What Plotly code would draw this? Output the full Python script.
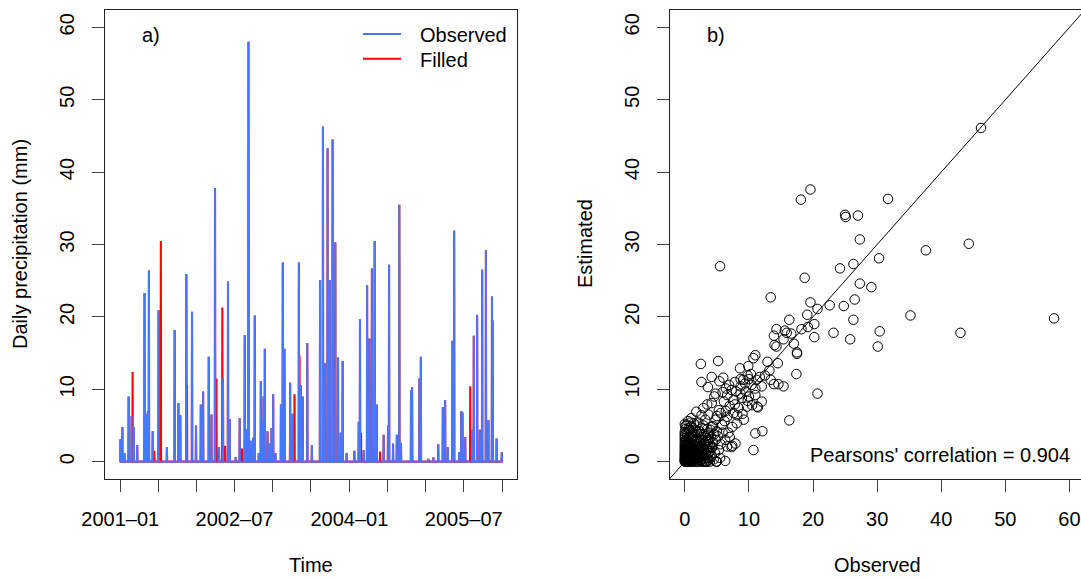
import numpy as np
import pandas as pd
import plotly.graph_objects as go

# ---------------- data: panel a (daily precipitation, mm) ----------------
obs_dates = ["2001-01-02", "2001-01-11", "2001-01-21", "2001-02-10", "2001-02-24", "2001-03-07",
             "2001-03-23", "2001-04-27", "2001-05-05", "2001-05-13", "2001-05-18", "2001-06-05",
             "2001-07-03", "2001-08-12", "2001-09-18", "2001-10-06", "2001-10-15", "2001-11-13",
             "2001-12-10", "2001-12-29", "2002-01-21", "2002-02-01", "2002-02-28", "2002-03-13",
             "2002-03-30", "2002-04-18", "2002-05-07", "2002-05-31", "2002-06-08", "2002-07-07",
             "2002-07-26", "2002-08-19", "2002-08-27", "2002-09-06", "2002-09-16", "2002-09-28",
             "2002-10-06", "2002-10-25", "2002-11-04", "2002-11-10", "2002-11-17", "2002-11-23",
             "2002-12-06", "2002-12-14", "2002-12-25", "2003-01-02", "2003-01-13", "2003-02-08",
             "2003-02-17", "2003-02-25", "2003-03-24", "2003-04-05", "2003-05-05", "2003-05-14",
             "2003-05-23", "2003-06-14", "2003-07-06", "2003-08-14", "2003-08-28", "2003-09-06",
             "2003-09-19", "2003-09-29", "2003-10-13", "2003-10-26", "2003-11-08", "2003-11-21",
             "2003-11-30", "2003-12-19", "2004-01-25", "2004-02-15", "2004-02-21", "2004-03-10",
             "2004-03-26", "2004-04-06", "2004-04-18", "2004-05-01", "2004-05-11", "2004-06-13",
             "2004-07-04", "2004-07-09", "2004-07-28", "2004-08-15", "2004-08-27", "2004-09-04",
             "2004-10-22", "2004-10-27", "2004-12-01", "2004-12-08", "2005-01-13", "2005-02-06",
             "2005-03-01", "2005-03-23", "2005-04-03", "2005-04-16", "2005-05-08", "2005-05-16",
             "2005-06-09", "2005-06-19", "2005-06-25", "2005-07-08", "2005-08-10", "2005-08-18",
             "2005-09-03", "2005-09-16", "2005-09-27", "2005-10-15", "2005-10-27", "2005-11-13",
             "2005-11-16", "2005-12-05", "2005-12-30"]
obs_vals = [3.1, 4.8, 1.2, 9.0, 6.3, 4.8,
            2.3, 23.3, 6.5, 7.0, 26.4, 4.2,
            20.9, 2.0, 18.2, 8.1, 6.4, 25.9,
            20.7, 5.0, 7.9, 9.7, 14.5, 6.5,
            37.8, 2.0, 11.5, 24.9, 5.9, 0.6,
            6.0, 17.5, 4.5, 58.0, 2.9, 3.3,
            20.2, 1.2, 11.1, 5.5, 9.0, 15.6,
            4.2, 2.5, 4.6, 9.3, 1.2, 7.9,
            27.5, 15.6, 10.9, 6.6, 27.5, 10.6,
            9.0, 16.4, 2.3, 25.1, 46.3, 13.6,
            43.3, 25.1, 44.5, 30.3, 14.4, 4.0,
            13.9, 1.2, 1.5, 5.5, 19.7, 1.6,
            24.4, 17.0, 26.7, 30.5, 7.9, 3.7,
            5.0, 27.2, 2.5, 3.7, 35.5, 2.6,
            9.9, 10.3, 11.5, 14.5, 0.4, 0.6,
            2.4, 7.5, 8.5, 2.0, 16.7, 31.9,
            1.3, 7.0, 6.8, 3.4, 4.4, 17.4,
            20.3, 4.4, 26.5, 29.2, 5.7, 22.8,
            19.5, 3.2, 1.3]
fill_dates = ["2001-03-01", "2001-06-13", "2001-07-14", "2001-11-16", "2002-04-06", "2002-05-04",
              "2002-05-17", "2002-08-06", "2003-04-14", "2003-05-08", "2004-02-26", "2004-05-27",
              "2005-08-01"]
fill_vals = [12.4, 1.5, 30.5, 10.6, 11.5, 21.3,
             2.2, 1.8, 9.3, 14.7, 4.0, 1.4,
             10.4]
time_ticks = ["2001-01-01", "2001-07-01", "2002-01-01", "2002-07-01", "2003-01-01", "2003-07-01",
              "2004-01-01", "2004-07-01", "2005-01-01", "2005-07-01", "2006-01-01"]
time_labels = ["2001\u201301", "", "", "2002\u201307", "", "", "2004\u201301", "", "", "2005\u201307", ""]

# ---------------- data: panel b (observed vs estimated) ----------------
sc_obs = [46.2, 19.6, 18.1, 31.7, 25.0, 25.1, 27.0, 27.3, 44.3, 37.6, 30.3, 26.3, 24.2, 5.5, 18.7,
          27.3, 29.1, 13.4, 19.6, 22.6, 24.8, 26.5, 20.7, 19.1, 35.2, 57.6, 16.3, 26.3, 20.2, 19.2,
          18.2, 14.3, 15.6, 16.6, 15.9, 13.9, 23.2, 30.4, 43.0, 15.4, 20.2, 25.8, 30.1, 14.0, 14.3,
          17.0, 17.5, 17.5, 14.5,
          16.3, 20.7, 17.4, 11.0, 10.7, 2.5, 5.2, 10.7, 11.0, 12.1, 11.4, 7.3, 6.3, 5.0, 3.3,
          10.3, 8.7, 9.1, 11.7, 12.0, 13.4, 13.9, 14.6, 15.4, 2.6, 3.6, 4.2, 5.4, 6.4, 4.8,
          6.6, 8.7, 9.5, 7.9, 6.6, 4.9, 3.2,
          0.5, 0.1, 1.9, 2.7, 4.2, 5.8, 3.2, 4.8, 6.6, 7.6, 8.4, 9.7, 10.5, 2.9, 4.2,
          6.1, 7.6, 8.9, 10.0, 11.0, 8.7, 9.4, 5.3, 3.7, 7.4, 9.2, 11.3, 12.0, 6.3, 7.4,
          5.3, 5.5, 8.1, 3.7, 4.8, 1.6,
          0.0, 0.0, 0.0, 0.0, 0.0, 0.0, 0.0, 0.0, 0.0, 0.0, 0.1, 0.2, 0.2, 0.3, 0.3,
          0.4, 0.4, 0.5, 0.5, 0.6, 0.7, 0.7, 0.8, 0.8, 0.9, 0.9, 1.0, 1.0, 1.1, 1.1,
          1.2, 1.3, 1.3, 1.4, 1.5, 1.5, 1.6, 1.7, 1.8, 1.8, 1.9, 2.0, 2.0, 2.1, 2.2,
          2.3, 2.4, 2.5, 2.5, 2.6, 2.7, 2.8, 2.9, 3.0, 3.1, 3.2, 3.3, 3.4, 3.5, 3.6,
          3.7, 3.8, 3.9, 4.0, 4.1, 4.2, 4.4, 4.5, 4.6, 4.7, 0.1, 0.3, 0.6, 0.2, 0.4,
          0.6, 0.1, 0.2, 0.4, 0.1, 0.3, 0.7, 1.0, 1.2, 1.4, 0.5, 0.8, 1.1, 1.6, 2.4,
          2.7, 3.9, 1.9, 1.2, 0.9, 1.7, 2.2, 2.9, 3.3, 3.6, 4.0, 4.4, 5.0, 5.2, 5.6,
          5.9, 6.2, 6.8, 7.0, 5.0, 5.6, 6.4, 7.0, 7.8, 8.2, 9.0, 9.8, 10.4, 11.2, 8.0,
          7.3, 6.9, 5.9, 2.1, 2.6, 1.8, 3.5, 4.6, 1.0, 6.0, 7.8, 9.8, 12.5, 13.2, 8.6,
          9.9, 12.9, 10.0, 11.0,
          0.0, 0.0, 0.0, 0.0, 0.0, 0.0, 0.0, 0.0, 0.0, 0.0,
          0.1, 0.1, 0.1, 0.2, 0.2, 0.3, 0.3, 0.4, 0.4, 0.5,
          0.5, 0.5, 0.6, 0.6, 0.7, 0.7, 0.7, 0.8, 0.8, 0.9,
          0.9, 1.0, 1.0, 1.1, 1.1, 1.2, 1.2, 1.3, 1.4, 1.4,
          1.5, 1.6, 1.7, 1.7, 1.8, 1.9, 2.0, 2.0, 2.1, 2.2,
          2.3, 2.4, 2.5, 2.6, 2.7, 2.8, 3.0, 3.0, 3.2, 3.4,
          3.5, 3.7, 3.8, 4.0, 4.2, 0.3, 0.6, 0.9, 1.3, 1.8,
          2.3, 2.9, 3.5, 2.0, 1.5, 1.0, 2.5, 3.0, 3.8, 4.3]
sc_est = [46.1, 37.6, 36.2, 36.3, 34.1, 33.8, 34.0, 30.7, 30.1, 29.2, 28.1, 27.3, 26.7, 27.0, 25.4,
          24.6, 24.1, 22.7, 22.0, 21.6, 21.5, 22.4, 21.1, 20.3, 20.2, 19.8, 19.6, 19.6, 19.0, 18.6,
          18.3, 18.3, 18.1, 17.7, 17.8, 17.4, 17.8, 18.0, 17.8, 16.9, 17.2, 16.9, 15.9, 16.1, 15.9,
          16.3, 15.1, 14.9, 13.6,
          5.7, 9.4, 12.1, 14.7, 14.3, 13.5, 13.9, 1.6, 3.9, 4.2, 7.5, 2.0, 0.1, 0.0, 0.0,
          12.1, 11.4, 11.3, 11.7, 10.4, 11.3, 10.7, 10.7, 10.4, 11.0, 10.3, 11.7, 11.1, 10.1, 9.4,
          9.2, 9.4, 9.7, 2.5, 2.1, 0.0, 0.0,
          5.6, 4.9, 4.1, 4.6, 4.8, 5.1, 5.8, 5.8, 6.2, 6.7, 7.4, 7.6, 7.8, 7.4, 8.1,
          8.3, 8.5, 8.8, 9.0, 9.2, 10.4, 10.8, 7.1, 6.5, 4.8, 5.8, 7.6, 8.3, 3.0, 2.2,
          1.6, 0.5, 5.3, 1.2, 3.0, 3.0,
          0.0, 0.2, 0.5, 0.9, 1.3, 1.8, 2.3, 2.9, 3.5, 4.1, 0.0, 0.1, 0.7, 1.5, 2.6,
          0.0, 0.4, 1.1, 2.0, 3.2, 0.1, 0.8, 1.6, 2.4, 0.3, 3.8, 0.0, 1.2, 2.0, 2.9,
          0.5, 1.5, 3.4, 0.1, 2.3, 0.8, 1.8, 4.3, 0.3, 2.7, 1.2, 0.0, 3.3, 2.0, 0.6,
          1.5, 2.6, 0.2, 3.8, 1.0, 2.1, 3.0, 0.4, 1.6, 2.5, 3.5, 0.9, 2.0, 0.0, 2.9,
          4.0, 1.4, 2.4, 0.6, 3.4, 1.9, 2.7, 0.3, 3.8, 1.2, 0.3, 0.0, 0.5, 1.0, 1.8,
          2.6, 2.1, 3.0, 3.6, 4.5, 5.1, 4.4, 4.9, 3.9, 5.3, 0.2, 0.0, 0.7, 0.0, 0.0,
          0.0, 0.0, 0.0, 0.0, 1.0, 1.0, 1.2, 1.9, 2.8, 3.6, 4.4, 4.9, 4.2, 3.5, 2.4,
          4.0, 5.6, 4.0, 3.4, 6.3, 6.7, 7.0, 7.7, 7.9, 6.4, 6.6, 8.4, 10.6, 11.3, 9.7,
          9.9, 10.6, 9.6, 5.4, 6.4, 6.9, 7.9, 9.0, 6.0, 11.6, 11.0, 11.9, 11.9, 12.6, 12.9,
          13.2, 13.8, 11.4, 10.1,
          0.1, 0.4, 0.7, 1.1, 1.5, 2.0, 2.6, 3.2, 3.8, 5.2,
          0.6, 1.2, 1.7, 2.3, 0.4, 0.9, 2.0, 1.3, 2.9, 0.0,
          0.6, 1.6, 1.0, 2.2, 0.3, 1.3, 3.5, 0.5, 1.9, 0.7,
          2.7, 0.4, 1.6, 0.2, 1.0, 2.4, 1.7, 0.6, 1.2, 2.8,
          0.3, 1.4, 0.6, 2.2, 1.6, 0.5, 1.0, 2.4, 0.3, 1.8,
          0.9, 2.0, 1.2, 0.5, 1.6, 0.8, 0.0, 2.2, 1.2, 0.5,
          1.5, 2.0, 0.3, 1.5, 0.8, 4.0, 4.6, 5.4, 4.6, 5.0,
          4.2, 5.0, 4.5, 3.8, 3.6, 3.2, 3.0, 3.8, 3.0, 2.0]
sc_ticks = [0, 10, 20, 30, 40, 50, 60]
correlation_text = "Pearsons' correlation = 0.904"

# ---------------- build daily series ----------------
days = pd.date_range("2001-01-01", "2005-12-31", freq="D")
obs = pd.Series(0.0, index=days)
obs[pd.to_datetime(obs_dates)] = obs_vals
filled = obs.copy()
filled[pd.to_datetime(fill_dates)] = fill_vals
obs_plot = obs.copy()
obs_plot[pd.to_datetime(fill_dates)] = np.nan

BLUE = "#4876FF"
RED = "#FF0000"
FONT = "Liberation Sans, Arial, Helvetica, sans-serif"

fig = go.Figure()
fig.add_trace(go.Scatter(x=days, y=filled.values, mode="lines",
                         line=dict(color=RED, width=2.1, simplify=False),
                         xaxis="x", yaxis="y", showlegend=False, connectgaps=False))
fig.add_trace(go.Scatter(x=days, y=[None if np.isnan(v) else v for v in obs_plot.values],
                         mode="lines", line=dict(color=BLUE, width=2.0, simplify=False),
                         xaxis="x", yaxis="y", showlegend=False, connectgaps=False))
fig.add_trace(go.Scatter(x=[-10, 80], y=[-10, 80], mode="lines",
                         line=dict(color="black", width=1), xaxis="x2", yaxis="y2",
                         showlegend=False))
fig.add_trace(go.Scatter(x=sc_obs, y=sc_est, mode="markers",
                         marker=dict(symbol="circle-open", size=9.5, color="black",
                                     line=dict(width=1, color="black")),
                         xaxis="x2", yaxis="y2", showlegend=False))

# page pixel layout (the page body margin is removed by the post script)
W, H = 1081, 578
ML, MR, MT, MB = 105, 0, 10, 99
PW, PH = W - ML - MR, H - MT - MB


def px2x(px):
    return (px - ML) / PW


def py2y(py):
    return (H - MB - py) / PH


axis_common = dict(showgrid=False, zeroline=False, showline=True, linecolor="#222",
                   linewidth=1, ticks="outside", ticklen=12, tickwidth=1, tickcolor="#444",
                   ticklabeloverflow="allow",
                   tickfont=dict(family=FONT, size=20, color="black"))

fig.update_layout(
    width=W, height=H,
    margin=dict(l=ML, r=MR, t=MT, b=MB),
    paper_bgcolor="white", plot_bgcolor="white",
    font=dict(family=FONT, size=20, color="black"),
    xaxis=dict(domain=[0, px2x(517.3)], type="date",
               range=["2000-10-20", "2006-03-14"],
               tickmode="array", tickvals=time_ticks, ticktext=time_labels,
               mirror=True, anchor="y", ticklabelstandoff=10, **axis_common),
    yaxis=dict(domain=[0, 1], range=[-2.4, 62.4], tickmode="array",
               tickvals=sc_ticks, tickangle=-90, mirror=True, anchor="x",
               ticklabelstandoff=10, **axis_common),
    xaxis2=dict(domain=[px2x(670), 1], range=[-2.31, 61.8], tickmode="array",
                tickvals=sc_ticks, mirror=True, anchor="y2", ticklabelstandoff=10,
                **axis_common),
    yaxis2=dict(domain=[0, 1], range=[-2.4, 62.4], tickmode="array",
                tickvals=sc_ticks, tickangle=-90, mirror=False, anchor="x2",
                ticklabelstandoff=10, **axis_common),
)

ann = []


def add_text(text, px, py, xanchor="center", yanchor="middle", angle=0):
    ann.append(dict(text=text, x=px2x(px), y=py2y(py), xref="paper", yref="paper",
                    xanchor=xanchor, yanchor=yanchor, textangle=angle, showarrow=False,
                    font=dict(family=FONT, size=20, color="black")))


add_text("a)", 150.5, 35.5)
add_text("b)", 716.3, 35.5)
add_text("Observed", 418, 35, xanchor="left")
add_text("Filled", 418, 59.5, xanchor="left")
add_text(correlation_text, 1072, 455, xanchor="right")
add_text("Daily precipitation (mm)", 20, 244, angle=-90)
add_text("Estimated", 585, 244, angle=-90)
add_text("Time", 311, 565)
add_text("Observed", 877, 565)
fig.update_layout(annotations=ann)

fig.update_layout(shapes=[
    dict(type="line", xref="paper", yref="paper", x0=px2x(363), x1=px2x(401),
         y0=py2y(34), y1=py2y(34), line=dict(color=BLUE, width=2)),
    dict(type="line", xref="paper", yref="paper", x0=px2x(363), x1=px2x(401),
         y0=py2y(58.7), y1=py2y(58.7), line=dict(color=RED, width=2)),
])

fig.write_html("out.html", config={"displayModeBar": False},
               post_script="document.body.style.margin='0';document.body.style.overflow='hidden';")
